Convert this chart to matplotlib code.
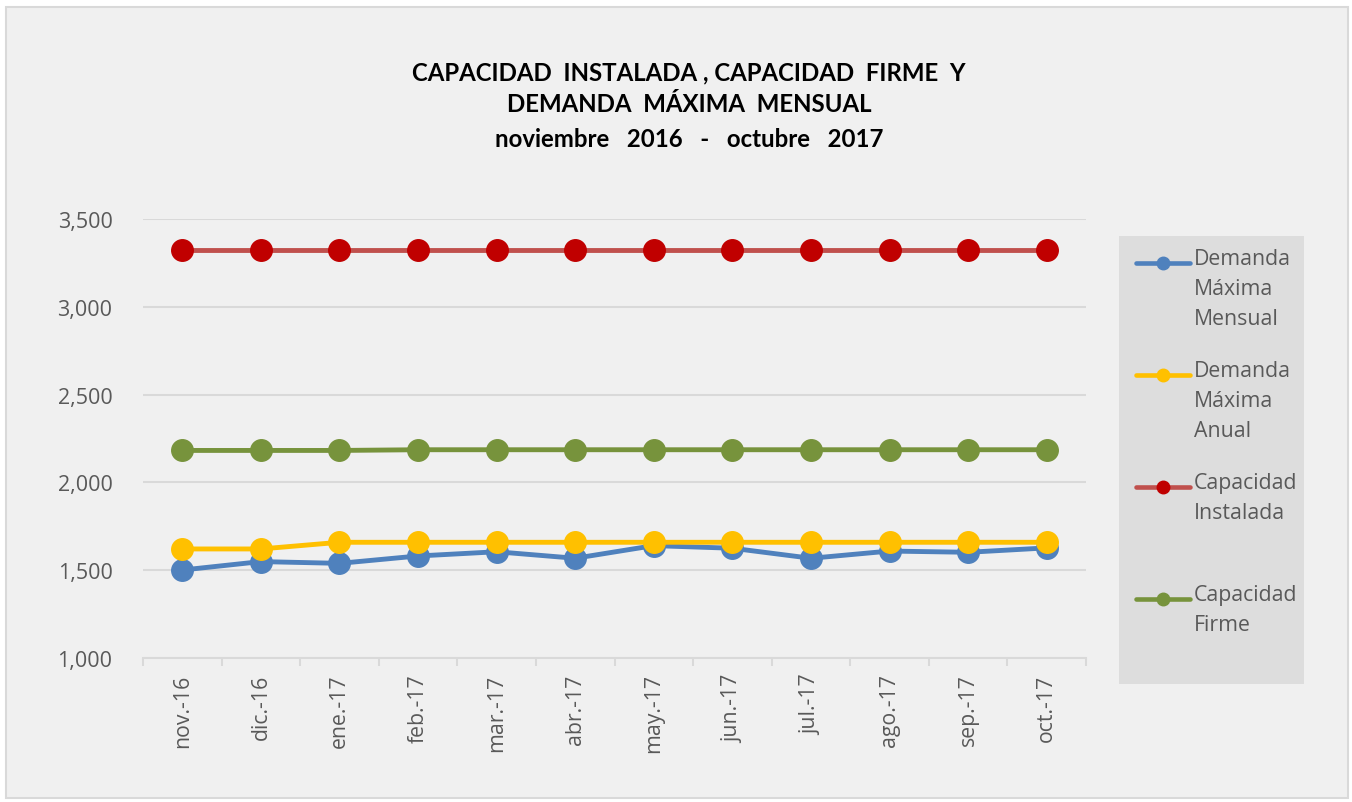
import matplotlib.pyplot as plt
from matplotlib.patches import Rectangle
from matplotlib.ticker import FuncFormatter, MultipleLocator

plt.rcParams['font.family'] = ['Open Sans', 'DejaVu Sans']

months = ["nov.-16", "dic.-16", "ene.-17", "feb.-17", "mar.-17", "abr.-17",
          "may.-17", "jun.-17", "jul.-17", "ago.-17", "sep.-17", "oct.-17"]
demandaMensual = [1501, 1549, 1539, 1581, 1605, 1568, 1640, 1625, 1568, 1609, 1602, 1627]
demandaAnual = [1621, 1621, 1659, 1659, 1659, 1659, 1659, 1659, 1659, 1659, 1659, 1659]
capInstalada = [3324] * 12
capFirme = [2182, 2182, 2182, 2186, 2186, 2186, 2186, 2186, 2186, 2186, 2186, 2186]

seriesNames = ["Demanda\nMáxima\nMensual", "Demanda\nMáxima\nAnual",
               "Capacidad\nInstalada", "Capacidad\nFirme"]
lineColors = ["#4f81bd", "#ffc000", "#c0504d", "#77933c"]
markerColors = ["#4f81bd", "#ffc000", "#c00000", "#77933c"]

W, H = 1352, 803
fig = plt.figure(figsize=(W / 100, H / 100), dpi=100)
fig.patch.set_facecolor("white")

# chart area with grey border
fig.patches.append(Rectangle((6 / W, 1 - 799 / H), 1342 / W, 791 / H,
                             transform=fig.transFigure, facecolor="#f0f0f0",
                             edgecolor="#d9d9d9", linewidth=1.5, zorder=-5))

ax = fig.add_axes([143 / W, 1 - 659 / H, (1086 - 143) / W, (659 - 220) / H])
ax.set_facecolor("#f0f0f0")

x = range(len(months))
allSeries = [demandaMensual, demandaAnual, capInstalada, capFirme]
order = [3, 2, 0, 1]
for i in order:
    ax.plot(x, allSeries[i], color=lineColors[i], linewidth=3.5, marker="o",
            markersize=15.5, markerfacecolor=markerColors[i],
            markeredgecolor=markerColors[i], zorder=3 + i, clip_on=False)

ax.set_xlim(-0.5, len(months) - 0.5)
ax.set_ylim(1000, 3500)
ax.yaxis.set_major_locator(MultipleLocator(500))
ax.yaxis.set_major_formatter(FuncFormatter(lambda v, p: f"{v:,.0f}"))
ax.grid(axis="y", color="#d9d9d9", linewidth=1.5)
ax.set_axisbelow(True)
for s in ["top", "right", "left"]:
    ax.spines[s].set_visible(False)
ax.spines["bottom"].set_color("#d9d9d9")
ax.spines["bottom"].set_linewidth(1.5)

ax.set_xticks(list(x))
ax.set_xticklabels(months, rotation=90, fontsize=15.3, color="#595959")
ax.set_xticks([i - 0.5 for i in range(len(months) + 1)], minor=True)
ax.tick_params(axis="x", which="major", length=0, pad=11)
ax.tick_params(axis="x", which="minor", length=6, width=1.5, color="#d9d9d9")
ax.tick_params(axis="y", length=0, pad=22, labelsize=15.5, labelcolor="#595959")

# title
titleLines = ["CAPACIDAD  INSTALADA , CAPACIDAD  FIRME  Y",
              "DEMANDA  MÁXIMA  MENSUAL",
              "noviembre   2016   -   octubre   2017"]
titleBase = [80, 112, 147]
for t, yb in zip(titleLines, titleBase):
    fig.text(689 / W, 1 - yb / H, t, ha="center", va="baseline",
             fontsize=17.3, fontweight="bold", color="black", family=["Lato", "DejaVu Sans"])

# legend box
lx0, ly0, lx1, ly1 = 1119, 237, 1304, 685
leg = fig.add_axes([lx0 / W, 1 - ly1 / H, (lx1 - lx0) / W, (ly1 - ly0) / H])
leg.set_facecolor("#dddddd")
leg.set_xlim(lx0, lx1)
leg.set_ylim(ly1, ly0)
leg.set_xticks([])
leg.set_yticks([])
for s in leg.spines.values():
    s.set_visible(False)
legY = [264, 376, 488, 600]
for i in range(4):
    leg.plot([1136, 1190], [legY[i], legY[i]], color=lineColors[i], linewidth=3.3,
             solid_capstyle="round")
    leg.plot([1163], [legY[i]], marker="o", markersize=9,
             color=markerColors[i])
    leg.text(1194, legY[i] - 15, seriesNames[i], ha="left", va="top",
             fontsize=15.3, color="#595959", linespacing=1.55)

plt.savefig("out.png", dpi=100)
